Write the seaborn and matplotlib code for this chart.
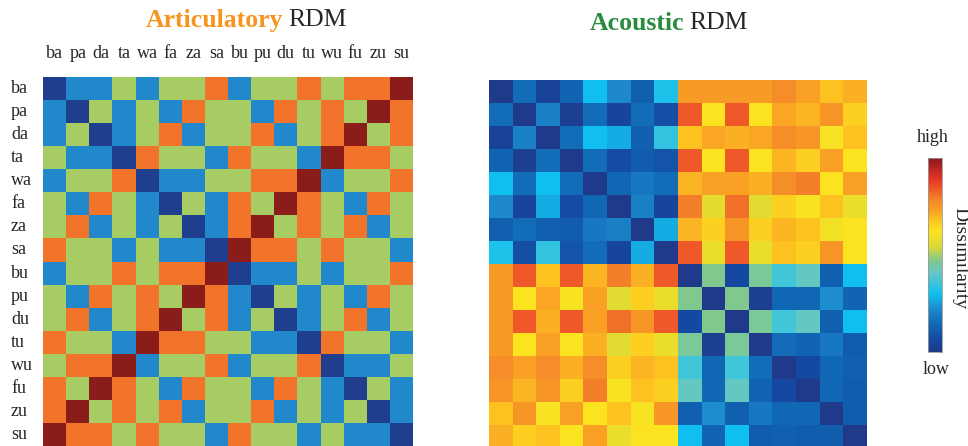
import numpy as np
import matplotlib
matplotlib.use("Agg")
import matplotlib.pyplot as plt
from matplotlib.colors import ListedColormap, LinearSegmentedColormap
import seaborn as sns

sns.set_style("white")
plt.rcParams['font.family'] = ['Liberation Serif', 'DejaVu Serif']

syllables = ["ba", "pa", "da", "ta", "wa", "fa", "za", "sa",
             "bu", "pu", "du", "tu", "wu", "fu", "zu", "su"]

# articulatory RDM: 0 = identical ... 4 = most different
articulatory = [
    [0, 1, 1, 2, 1, 2, 2, 3, 1, 2, 2, 3, 2, 3, 3, 4],
    [1, 0, 2, 1, 2, 1, 3, 2, 2, 1, 3, 2, 3, 2, 4, 3],
    [1, 2, 0, 1, 2, 3, 1, 2, 2, 3, 1, 2, 3, 4, 2, 3],
    [2, 1, 1, 0, 3, 2, 2, 1, 3, 2, 2, 1, 4, 3, 3, 2],
    [1, 2, 2, 3, 0, 1, 1, 2, 2, 3, 3, 4, 1, 2, 2, 3],
    [2, 1, 3, 2, 1, 0, 2, 1, 3, 2, 4, 3, 2, 1, 3, 2],
    [2, 3, 1, 2, 1, 2, 0, 1, 3, 4, 2, 3, 2, 3, 1, 2],
    [3, 2, 2, 1, 2, 1, 1, 0, 4, 3, 3, 2, 3, 2, 2, 1],
    [1, 2, 2, 3, 2, 3, 3, 4, 0, 1, 1, 2, 1, 2, 2, 3],
    [2, 1, 3, 2, 3, 2, 4, 3, 1, 0, 2, 1, 2, 1, 3, 2],
    [2, 3, 1, 2, 3, 4, 2, 3, 1, 2, 0, 1, 2, 3, 1, 2],
    [3, 2, 2, 1, 4, 3, 3, 2, 2, 1, 1, 0, 3, 2, 2, 1],
    [2, 3, 3, 4, 1, 2, 2, 3, 1, 2, 2, 3, 0, 1, 1, 2],
    [3, 2, 4, 3, 2, 1, 3, 2, 2, 1, 3, 2, 1, 0, 2, 1],
    [3, 4, 2, 3, 2, 3, 1, 2, 2, 3, 1, 2, 1, 2, 0, 1],
    [4, 3, 3, 2, 3, 2, 2, 1, 3, 2, 2, 1, 2, 1, 1, 0],
]

# acoustic RDM, dissimilarity 0 (low) .. 1 (high)
acoustic = [
    [0.00, 0.15, 0.04, 0.13, 0.30, 0.22, 0.12, 0.32, 0.74, 0.74, 0.74, 0.74, 0.77, 0.73, 0.68, 0.71],
    [0.15, 0.00, 0.20, 0.02, 0.15, 0.05, 0.15, 0.08, 0.84, 0.62, 0.84, 0.62, 0.72, 0.70, 0.75, 0.66],
    [0.04, 0.20, 0.00, 0.15, 0.30, 0.27, 0.12, 0.34, 0.68, 0.72, 0.71, 0.72, 0.77, 0.75, 0.61, 0.68],
    [0.13, 0.02, 0.15, 0.00, 0.15, 0.07, 0.11, 0.09, 0.84, 0.62, 0.84, 0.62, 0.70, 0.66, 0.73, 0.62],
    [0.30, 0.15, 0.30, 0.15, 0.00, 0.14, 0.18, 0.15, 0.70, 0.73, 0.73, 0.71, 0.77, 0.79, 0.62, 0.73],
    [0.22, 0.05, 0.27, 0.07, 0.14, 0.00, 0.20, 0.05, 0.79, 0.57, 0.81, 0.56, 0.66, 0.61, 0.68, 0.58],
    [0.12, 0.15, 0.12, 0.11, 0.18, 0.20, 0.00, 0.27, 0.70, 0.66, 0.75, 0.66, 0.70, 0.68, 0.60, 0.62],
    [0.32, 0.08, 0.34, 0.09, 0.15, 0.05, 0.27, 0.00, 0.84, 0.58, 0.84, 0.58, 0.68, 0.66, 0.75, 0.62],
    [0.74, 0.84, 0.68, 0.84, 0.70, 0.79, 0.71, 0.84, 0.00, 0.47, 0.06, 0.46, 0.36, 0.41, 0.12, 0.30],
    [0.74, 0.62, 0.72, 0.61, 0.73, 0.56, 0.66, 0.58, 0.47, 0.00, 0.47, 0.02, 0.14, 0.14, 0.23, 0.13],
    [0.74, 0.84, 0.71, 0.84, 0.73, 0.81, 0.75, 0.84, 0.06, 0.47, 0.00, 0.46, 0.36, 0.41, 0.12, 0.30],
    [0.74, 0.62, 0.73, 0.62, 0.71, 0.56, 0.66, 0.58, 0.46, 0.02, 0.46, 0.00, 0.15, 0.13, 0.18, 0.11],
    [0.77, 0.73, 0.77, 0.71, 0.77, 0.66, 0.70, 0.68, 0.36, 0.14, 0.36, 0.15, 0.00, 0.06, 0.14, 0.12],
    [0.75, 0.70, 0.75, 0.66, 0.79, 0.61, 0.68, 0.66, 0.41, 0.14, 0.41, 0.13, 0.06, 0.00, 0.14, 0.11],
    [0.68, 0.75, 0.61, 0.73, 0.62, 0.68, 0.61, 0.75, 0.12, 0.23, 0.12, 0.18, 0.14, 0.14, 0.00, 0.11],
    [0.71, 0.66, 0.68, 0.62, 0.73, 0.58, 0.62, 0.62, 0.30, 0.13, 0.30, 0.11, 0.12, 0.11, 0.11, 0.00],
]

art_cmap = ListedColormap(["#1f3f8e", "#2088cb", "#a6cc63", "#f2742a", "#8a1d1a"])
ac_cmap = LinearSegmentedColormap.from_list("rdm", [
    (0.00, "#1f3a8a"), (0.06, "#1548a0"), (0.14, "#1068b5"), (0.22, "#1e88cc"),
    (0.30, "#10c0f0"), (0.40, "#60c8c8"), (0.47, "#80c890"), (0.54, "#d8d838"),
    (0.62, "#fbe41f"), (0.68, "#fdc420"), (0.73, "#f9a025"), (0.78, "#f48a28"),
    (0.84, "#f05a28"), (0.90, "#e2302a"), (1.00, "#8b1a1a")])

fig = plt.figure(figsize=(9.68, 4.46), dpi=100)
W, H = 968.0, 446.0

ax1 = fig.add_axes([43 / W, 0, 370 / W, 369 / H])
sns.heatmap(np.array(articulatory), ax=ax1, cmap=art_cmap, vmin=-0.5, vmax=4.5,
            cbar=False, xticklabels=syllables, yticklabels=syllables)
ax1.xaxis.tick_top()
ax1.tick_params(axis='both', length=0, labelsize=13)
ax1.tick_params(axis='x', pad=11)
ax1.tick_params(axis='y', pad=23)
plt.setp(ax1.get_xticklabels(), rotation=0)
plt.setp(ax1.get_yticklabels(), rotation=0, ha='left')

ax2 = fig.add_axes([489 / W, -2 / H, 378 / W, 368 / H])
sns.heatmap(np.array(acoustic), ax=ax2, cmap=ac_cmap, vmin=0, vmax=1,
            cbar=False, xticklabels=False, yticklabels=False)

cax = fig.add_axes([928 / W, 94 / H, 14 / W, 194 / H])
cb = fig.colorbar(ax2.collections[0], cax=cax)
cb.set_ticks(np.linspace(0, 1, 15))
cb.ax.tick_params(direction='in', length=2, color='#888888', labelright=False)
cb.outline.set_edgecolor('#999999')
cb.outline.set_linewidth(0.6)

fig.text(933 / W, 1 - 137 / H, "high", ha='center', va='center', fontsize=13)
fig.text(936 / W, 1 - 369 / H, "low", ha='center', va='center', fontsize=13)
fig.text(960 / W, 1 - 258 / H, "Dissimilarity", ha='center', va='center',
         rotation=-90, fontsize=14)

fig.text(283 / W, 1 - 20 / H, "Articulatory", ha='right', va='center',
         fontsize=18.5, fontweight='bold', color='#f7941d')
fig.text(288 / W, 1 - 20 / H, "RDM", ha='left', va='center', fontsize=18.5)
fig.text(684 / W, 1 - 23 / H, "Acoustic", ha='right', va='center',
         fontsize=18.5, fontweight='bold', color='#2a8a3e')
fig.text(689 / W, 1 - 23 / H, "RDM", ha='left', va='center', fontsize=18.5)

fig.savefig("out.png", dpi=100)
